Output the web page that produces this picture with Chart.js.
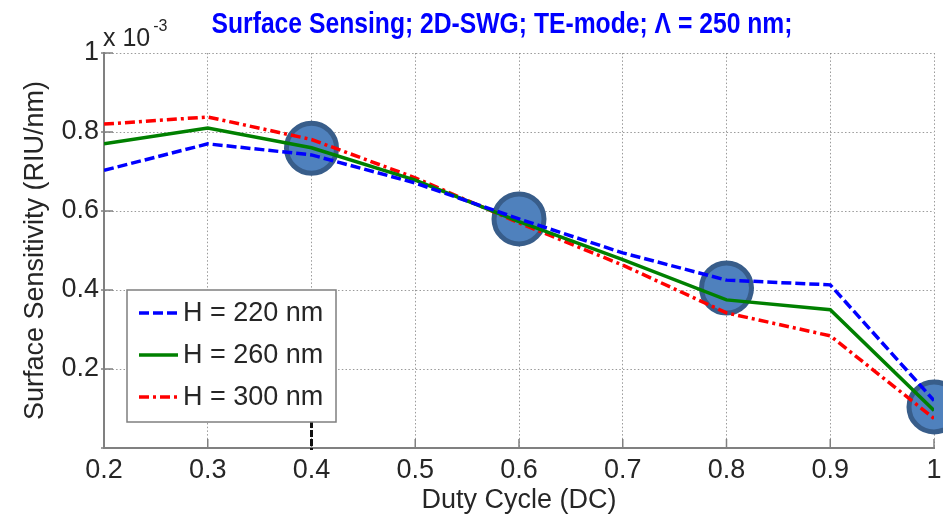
<!DOCTYPE html>
<html>
<head>
<meta charset="utf-8">
<script src="https://cdn.jsdelivr.net/npm/chart.js@4.4.0/dist/chart.umd.min.js"></script>
<style>
  html, body { margin: 0; padding: 0; background: #fff; }
  #wrap { width: 943px; height: 514px; position: relative; }
</style>
</head>
<body>
<div id="wrap"><canvas id="sensChart"></canvas></div>
<script>
const dutyCycle = [0.2, 0.3, 0.4, 0.5, 0.6, 0.7, 0.8, 0.9, 1.0];
// surface sensitivity, in units of 1e-3 RIU/nm
const sensH220 = [0.703, 0.770, 0.742, 0.671, 0.580, 0.494, 0.425, 0.413, 0.120];
const sensH260 = [0.770, 0.810, 0.760, 0.678, 0.573, 0.477, 0.375, 0.350, 0.095];
const sensH300 = [0.820, 0.838, 0.781, 0.684, 0.570, 0.463, 0.342, 0.284, 0.075];
const seriesLabels = ["H = 220 nm", "H = 260 nm", "H = 300 nm"];
// highlighted operating points
const markerDC = [0.4, 0.6, 0.8, 1.0];
const markerSens = [0.759, 0.580, 0.405, 0.104];
const xTickValues = [0.2, 0.3, 0.4, 0.5, 0.6, 0.7, 0.8, 0.9, 1];
const yTickValues = [0, 0.2, 0.4, 0.6, 0.8, 1];

const FONT = '"Liberation Sans", Arial, Helvetica, sans-serif';
const TEXT = "#262626";
const AXIS = "#808080";
const GRID = "rgba(120,120,120,0.75)";

Chart.defaults.font.family = FONT;
Chart.defaults.font.size = 27;
Chart.defaults.color = TEXT;

const toPoints = (xs, ys) => xs.map((x, i) => ({ x: x, y: ys[i] }));
const fmt = v => String(Number(v.toFixed(1)));

// title and the axis multiplier
const headerText = {
    id: "headerText",
    afterDraw(chart) {
        const ctx = chart.ctx;
        const area = chart.chartArea;
        ctx.save();
        ctx.fillStyle = "#0000ff";
        ctx.textAlign = "center";
        ctx.textBaseline = "alphabetic";
        ctx.font = "bold 29px " + FONT;
        // narrow title: squeezed to fit its slot
        ctx.fillText("Surface Sensing; 2D-SWG; TE-mode; \u039B = 250 nm;", 502, 33, 581);

        ctx.fillStyle = TEXT;
        ctx.textAlign = "left";
        ctx.font = "25px " + FONT;
        ctx.fillText("x 10", area.left - 1, 46);
        const w = ctx.measureText("x 10").width;
        ctx.font = "16px " + FONT;
        ctx.fillText("-3", area.left + w + 2, 31);
        ctx.restore();
    }
};

// MATLAB style ticks pointing into the plot
const innerTicks = {
    id: "innerTicks",
    beforeDatasetsDraw(chart) {
        const ctx = chart.ctx;
        const { left, bottom } = chart.chartArea;
        const xs = chart.scales.x, ys = chart.scales.y;
        ctx.save();
        ctx.strokeStyle = AXIS;
        ctx.lineWidth = 1.5;
        ctx.beginPath();
        xTickValues.forEach(v => {
            const px = xs.getPixelForValue(v);
            ctx.moveTo(px, bottom);
            ctx.lineTo(px, bottom - 9);
        });
        yTickValues.forEach(v => {
            const py = ys.getPixelForValue(v);
            ctx.moveTo(left - 3, py);
            ctx.lineTo(left + 9, py);
        });
        ctx.stroke();

        // dark dashed mark on the 0.4 tick
        const p4 = xs.getPixelForValue(0.4);
        ctx.strokeStyle = "#111";
        ctx.lineWidth = 3;
        ctx.setLineDash([7, 2]);
        ctx.beginPath();
        ctx.moveTo(p4, bottom - 27);
        ctx.lineTo(p4, bottom + 2);
        ctx.stroke();
        ctx.restore();
    }
};

// boxed legend inside the axes
const boxLegend = {
    id: "boxLegend",
    afterDraw(chart) {
        const ctx = chart.ctx;
        const x0 = 127, y0 = 290, w = 209, h = 132;
        ctx.save();
        ctx.fillStyle = "#fff";
        ctx.fillRect(x0, y0, w, h);
        ctx.strokeStyle = "#7f7f7f";
        ctx.lineWidth = 1.5;
        ctx.strokeRect(x0, y0, w, h);
        chart.data.datasets.slice(0, 3).forEach((ds, i) => {
            const y = y0 + 23 + i * 42;
            ctx.strokeStyle = ds.borderColor;
            ctx.lineWidth = ds.borderWidth;
            ctx.setLineDash(ds.borderDash || []);
            ctx.beginPath();
            ctx.moveTo(x0 + 12, y);
            ctx.lineTo(x0 + 51, y);
            ctx.stroke();
            ctx.setLineDash([]);
            ctx.fillStyle = TEXT;
            ctx.font = "27px " + FONT;
            ctx.textAlign = "left";
            ctx.textBaseline = "middle";
            ctx.fillText(ds.label, x0 + 56, y + 1);
        });
        ctx.restore();
    }
};

const lineStyle = (label, data, color, dash) => ({
    type: "line",
    label: label,
    data: toPoints(dutyCycle, data),
    borderColor: color,
    backgroundColor: color,
    borderWidth: 3.5,
    borderDash: dash,
    pointRadius: 0,
    fill: false,
    tension: 0
});

new Chart(document.getElementById("sensChart"), {
    type: "line",
    data: {
        datasets: [
            lineStyle(seriesLabels[0], sensH220, "#0000ff", [10, 4]),
            lineStyle(seriesLabels[1], sensH260, "#008000", []),
            lineStyle(seriesLabels[2], sensH300, "#ff0000", [10, 4, 3, 4]),
            {
                type: "scatter",
                label: "points",
                data: toPoints(markerDC, markerSens),
                pointRadius: 25,
                pointHoverRadius: 25,
                borderWidth: 5,
                backgroundColor: "#4f81bd",
                borderColor: "#385d8a",
                showLine: false,
                clip: false
            }
        ]
    },
    options: {
        responsive: true,
        maintainAspectRatio: false,
        animation: false,
        layout: { autoPadding: false, padding: { top: 53, right: 9, left: 0, bottom: 0 } },
        plugins: {
            legend: { display: false },
            title: { display: false },
            tooltip: { enabled: false }
        },
        scales: {
            x: {
                type: "linear",
                min: 0.2,
                max: 1,
                afterBuildTicks: s => { s.ticks = xTickValues.map(v => ({ value: v })); },
                afterFit: s => { s.height = 66; s.paddingLeft = 0; s.paddingRight = 0; },
                ticks: { callback: v => fmt(v), padding: 6, maxRotation: 0 },
                grid: { color: GRID, lineWidth: 1, drawTicks: false },
                border: { display: true, color: AXIS, width: 2, dash: [1.5, 2.2] },
                title: {
                    display: true, text: "Duty Cycle (DC)",
                    font: { lineHeight: 1.0 },
                    padding: { top: 0, bottom: 0 }
                }
            },
            y: {
                type: "linear",
                min: 0,
                max: 1,
                afterBuildTicks: s => { s.ticks = yTickValues.map(v => ({ value: v })); },
                afterFit: s => { s.width = 104; s.paddingTop = 0; s.paddingBottom = 0; },
                ticks: { callback: v => (v === 0 ? "" : fmt(v)), padding: 5 },
                grid: { color: GRID, lineWidth: 1, drawTicks: false },
                border: { display: true, color: AXIS, width: 2, dash: [1.5, 2.2] },
                title: { display: true, text: "Surface Sensitivity (RIU/nm)", padding: { top: 19, bottom: 0 } }
            }
        }
    },
    plugins: [innerTicks, boxLegend, headerText]
});
</script>
</body>
</html>
